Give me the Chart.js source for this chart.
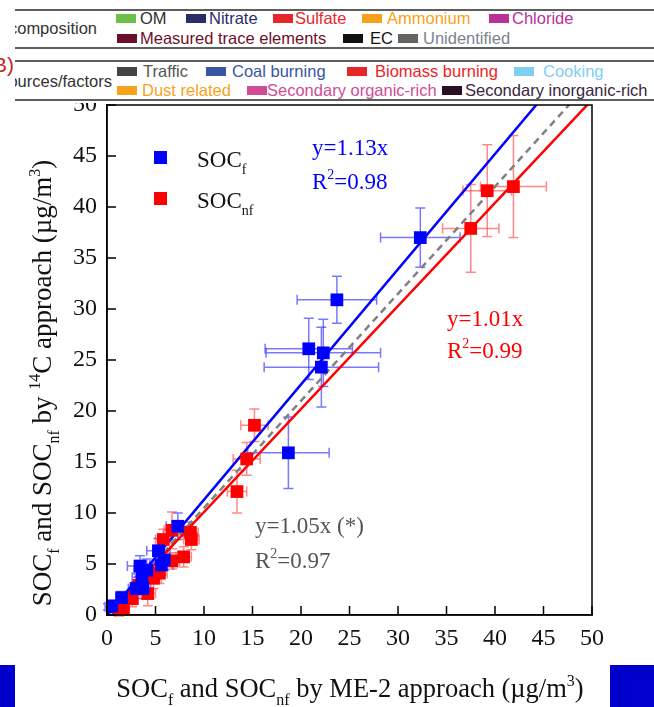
<!DOCTYPE html>
<html>
<head>
<meta charset="utf-8">
<script src="https://cdn.jsdelivr.net/npm/chart.js@4.4.1/dist/chart.umd.min.js"></script>
<style>
  html, body { margin: 0; padding: 0; background: #fff; }
  #wrap { position: relative; width: 654px; height: 707px; overflow: hidden; }
  #chart { position: absolute; left: 0; top: 0; }
  #strip { position: absolute; left: 0; top: 0; width: 654px; height: 103px; background: #fff; overflow: hidden;
           font-family: 'Liberation Sans', sans-serif; font-size: 16.5px; }
  .rule { position: absolute; left: 15px; right: 0; height: 2px; background: #5e5e5e; }
  .box { position: absolute; width: 20px; height: 9px; }
  .txt { position: absolute; white-space: nowrap; line-height: 20px; }
  .clip { position: absolute; left: 15px; height: 22px; overflow: hidden; color: #333; }
  .clip span { position: absolute; right: 0; top: 0; white-space: nowrap; line-height: 22px; }
  .block { position: absolute; top: 665px; height: 42px; background: #0000cc; }
</style>
</head>
<body>
<div id="wrap">
  <canvas id="chart" width="654" height="707"></canvas>
  <div id="strip"></div>
  <div class="block" style="left:0;width:15px"></div>
  <div class="block" style="left:610px;width:44px"></div>
</div>
<script>
// axis ticks (both axes, µg/m3)
const tickValues = [0, 5, 10, 15, 20, 25, 30, 35, 40, 45, 50]

// SOC_f: ME-2 (x) vs 14C (y), with uncertainties
const socfX    = [32.3, 23.7, 20.8, 22.3, 22.1, 18.7, 7.3, 5.3, 5.9, 5.6, 3.4, 4.1, 3.6, 3.0, 3.7, 1.5, 0.5, 0.1]
const socfY    = [37.0, 30.9, 26.1, 25.7, 24.3, 15.9, 8.7, 6.3, 5.4, 4.9, 4.8, 4.4, 3.7, 2.6, 2.6, 1.7, 0.9, 0.8]
const socfXErr = [4.1, 4.1, 4.5, 5.9, 5.9, 4.2, 1.2, 1.2, 1.0, 1.2, 1.3, 1.3, 1.0, 0.8, 0.8, 0.5, 0.4, 0.3]
const socfYErr = [2.9, 2.3, 3.0, 3.3, 3.9, 3.5, 1.3, 1.2, 1.0, 1.0, 1.0, 1.1, 1.0, 0.6, 1.0, 0.6, 0.4, 0.3]

// SOC_nf
const socnfX    = [37.5, 39.2, 41.9, 15.2, 14.4, 13.4, 8.6, 8.7, 6.7, 5.8, 7.9, 6.7, 5.4, 4.8, 4.2, 3.3, 2.6, 1.7, 1.2]
const socnfY    = [37.9, 41.6, 42.0, 18.6, 15.3, 12.1, 8.1, 7.4, 8.3, 7.4, 5.7, 5.3, 4.1, 3.6, 2.1, 2.9, 1.6, 0.6, 0.3]
const socnfXErr = [2.9, 2.5, 3.4, 1.4, 1.4, 1.0, 0.8, 0.8, 0.8, 0.8, 0.8, 0.8, 0.8, 0.8, 0.8, 0.6, 0.6, 0.5, 0.4]
const socnfYErr = [4.3, 4.5, 5.0, 1.6, 1.6, 2.1, 1.0, 1.0, 1.8, 1.0, 1.0, 0.8, 1.0, 1.0, 1.2, 0.8, 0.8, 0.5, 0.4]

// regression slopes (through origin)
const slopeF = 1.13
const slopeNf = 1.01
const slopeAll = 1.05

// legend strip of the panel above: label, swatch, text colour, swatch x, text x, row centre y
const stripKeys = [
  ['OM', '#6cbf4b', '#2e2e2e', 116, 140, 18],
  ['Nitrate', '#2b2d6b', '#2b2d6b', 186, 209, 18],
  ['Sulfate', '#e8262a', '#e8262a', 273, 295, 18],
  ['Ammonium', '#f7a21b', '#f7a21b', 362, 387, 18],
  ['Chloride', '#b8329a', '#b8329a', 489, 512, 18],
  ['Measured trace elements', '#6b0f2a', '#6b0f2a', 117, 140, 38],
  ['EC', '#111', '#111', 343, 370, 38],
  ['Unidentified', '#63645f', '#7d8190', 398, 423, 38],
  ['Traffic', '#444', '#555', 117, 143, 71],
  ['Coal burning', '#3a55a4', '#3a55a4', 206, 232, 71],
  ['Biomass burning', '#e8262a', '#e8262a', 347, 375, 71],
  ['Cooking', '#7fcff5', '#7fcff5', 514, 543, 71],
  ['Dust related', '#f7a21b', '#f7a21b', 117, 142, 90],
  ['Secondary organic-rich', '#d04c98', '#d04c98', 247, 267, 90],
  ['Secondary inorganic-rich', '#2a0f25', '#3a2540', 442, 465, 90]
]

function buildStrip() {
  const strip = document.querySelector('#strip')
  let html = ''
  for (const top of [9, 47, 60, 99]) html += `<div class="rule" style="top:${top}px"></div>`
  html += '<div class="txt" style="left:-7px;top:53px;color:#c0282a;font-size:21px;line-height:24px">B)</div>'
  html += '<div class="clip" style="top:17px;width:82px"><span>composition</span></div>'
  html += '<div class="clip" style="top:70px;width:97px"><span>sources/factors</span></div>'
  stripKeys.forEach(([label, box, color, boxLeft, textLeft, cy]) => {
    html += `<div class="box" style="left:${boxLeft}px;top:${cy - 4}px;background:${box}"></div>`
    html += `<div class="txt" style="left:${textLeft}px;top:${cy - 10}px;color:${color}">${label}</div>`
  })
  strip.innerHTML = html
}

// draws text made of [string, 'sub'|'sup'|''] runs, centred or left-aligned at (x, y baseline)
function drawRich(ctx, parts, x, y, size, color, align) {
  const small = Math.round(size * 0.6)
  const font = s => `${s}px "Liberation Serif", "Times New Roman", serif`
  const widths = parts.map(([t, k]) => {
    ctx.font = font(k ? small : size)
    return ctx.measureText(t).width
  })
  const total = widths.reduce((a, b) => a + b, 0)
  let cx = align === 'center' ? x - total / 2 : x
  ctx.fillStyle = color
  ctx.textAlign = 'left'
  ctx.textBaseline = 'alphabetic'
  parts.forEach(([t, k], i) => {
    ctx.font = font(k ? small : size)
    const dy = k === 'sub' ? size * 0.3 : k === 'sup' ? -size * 0.42 : 0
    ctx.fillText(t, cx, y + dy)
    cx += widths[i]
  })
}

const decorPlugin = {
  id: 'decor',
  beforeDatasetsDraw(chart) {
    // error bars behind the squares
    const { ctx, scales: { x, y } } = chart
    ctx.save()
    ctx.lineWidth = 1.5
    chart.data.datasets.forEach(ds => {
      if (!ds.errX) return
      ctx.strokeStyle = ds.errColor
      ds.data.forEach((p, i) => {
        const px = x.getPixelForValue(p.x)
        const py = y.getPixelForValue(p.y)
        const x0 = x.getPixelForValue(p.x - ds.errX[i])
        const x1 = x.getPixelForValue(p.x + ds.errX[i])
        const y0 = y.getPixelForValue(p.y - ds.errY[i])
        const y1 = y.getPixelForValue(p.y + ds.errY[i])
        ctx.beginPath()
        ctx.moveTo(x0, py); ctx.lineTo(x1, py)
        ctx.moveTo(px, y0); ctx.lineTo(px, y1)
        ctx.moveTo(x0, py - 5); ctx.lineTo(x0, py + 5)
        ctx.moveTo(x1, py - 5); ctx.lineTo(x1, py + 5)
        ctx.moveTo(px - 5, y0); ctx.lineTo(px + 5, y0)
        ctx.moveTo(px - 5, y1); ctx.lineTo(px + 5, y1)
        ctx.stroke()
      })
    })
    ctx.restore()
  },
  afterDraw(chart) {
    const { ctx, chartArea: a, scales: { x, y } } = chart
    ctx.save()
    // frame and inward ticks
    ctx.strokeStyle = '#000'
    ctx.lineWidth = 1.5
    ctx.strokeRect(a.left, a.top, a.right - a.left, a.bottom - a.top)
    ctx.beginPath()
    tickValues.forEach(v => {
      const px = x.getPixelForValue(v)
      ctx.moveTo(px, a.bottom); ctx.lineTo(px, a.bottom - 9)
      const py = y.getPixelForValue(v)
      ctx.moveTo(a.left, py); ctx.lineTo(a.left + 9, py)
    })
    ctx.stroke()

    // legend inside the plot
    ctx.fillStyle = '#0000ff'
    ctx.fillRect(154, 151, 13, 13)
    ctx.fillStyle = '#ff0000'
    ctx.fillRect(154, 192, 13, 13)
    drawRich(ctx, [['SOC', ''], ['f', 'sub']], 197, 167, 23, '#111', 'left')
    drawRich(ctx, [['SOC', ''], ['nf', 'sub']], 197, 208, 23, '#111', 'left')

    // fit equations
    drawRich(ctx, [['y=1.13x', '']], 312, 155, 23, '#0000ff', 'left')
    drawRich(ctx, [['R', ''], ['2', 'sup'], ['=0.98', '']], 312, 189, 23, '#0000ff', 'left')
    drawRich(ctx, [['y=1.01x', '']], 447, 326, 23, '#ff0000', 'left')
    drawRich(ctx, [['R', ''], ['2', 'sup'], ['=0.99', '']], 447, 358, 23, '#ff0000', 'left')
    drawRich(ctx, [['y=1.05x (*)', '']], 255, 533, 23, '#555', 'left')
    drawRich(ctx, [['R', ''], ['2', 'sup'], ['=0.97', '']], 255, 568, 23, '#555', 'left')

    // axis titles
    drawRich(ctx, [['SOC', ''], ['f', 'sub'], [' and SOC', ''], ['nf', 'sub'], [' by ME-2 approach (\u00b5g/m', ''], ['3', 'sup'], [')', '']],
      350, 697, 26.5, '#111', 'center')
    ctx.translate(51, 383)
    ctx.rotate(-Math.PI / 2)
    drawRich(ctx, [['SOC', ''], ['f', 'sub'], [' and SOC', ''], ['nf', 'sub'], [' by ', ''], ['14', 'sup'], ['C approach (\u00b5g/m', ''], ['3', 'sup'], [')', '']],
      0, 0, 27, '#111', 'center')
    ctx.restore()
  }
}

const points = (xs, ys) => xs.map((v, i) => ({ x: v, y: ys[i] }))
const fitLine = slope => [{ x: 0, y: 0 }, { x: 50, y: 50 * slope }]
const tickFont = { family: '"Liberation Serif", "Times New Roman", serif', size: 24 }

function axis(extra) {
  return Object.assign({
    type: 'linear',
    min: 0,
    max: 50,
    afterBuildTicks: scale => { scale.ticks = tickValues.map(v => ({ value: v })) },
    grid: { display: false, drawTicks: false },
    border: { display: true, color: '#000', width: 1.5 }
  }, extra)
}

new Chart(document.querySelector('#chart'), {
  type: 'scatter',
  data: {
    datasets: [
      {
        label: 'SOCf',
        data: points(socfX, socfY),
        errX: socfXErr,
        errY: socfYErr,
        errColor: 'rgba(30, 30, 255, 0.6)',
        pointStyle: 'rect',
        pointRadius: 9,
        backgroundColor: '#0000ff',
        borderColor: '#0000ff',
        borderWidth: 0,
        order: 1
      },
      {
        label: 'SOCnf',
        data: points(socnfX, socnfY),
        errX: socnfXErr,
        errY: socnfYErr,
        errColor: 'rgba(255, 40, 40, 0.55)',
        pointStyle: 'rect',
        pointRadius: 9,
        backgroundColor: '#ff0000',
        borderColor: '#ff0000',
        borderWidth: 0,
        order: 2
      },
      { type: 'line', data: fitLine(slopeF), borderColor: '#0000ff', borderWidth: 2.5, pointRadius: 0, order: 3 },
      { type: 'line', data: fitLine(slopeNf), borderColor: '#ff0000', borderWidth: 2.5, pointRadius: 0, order: 4 },
      { type: 'line', data: fitLine(slopeAll), borderColor: '#808080', borderWidth: 2.5, borderDash: [7, 5], pointRadius: 0, order: 5 }
    ]
  },
  options: {
    responsive: false,
    animation: false,
    layout: { padding: { top: 105, right: 62, left: 0, bottom: 0 } },
    plugins: { legend: { display: false }, tooltip: { enabled: false } },
    scales: {
      x: axis({ position: 'bottom', ticks: { color: '#111', padding: 9, maxRotation: 0, font: tickFont },
        afterFit: scale => { scale.height = 92 } }),
      y: axis({ position: 'left', ticks: { color: '#111', padding: 10, font: tickFont },
        afterFit: scale => { scale.width = 107 } })
    }
  },
  plugins: [decorPlugin]
})

buildStrip()
</script>
</body>
</html>
